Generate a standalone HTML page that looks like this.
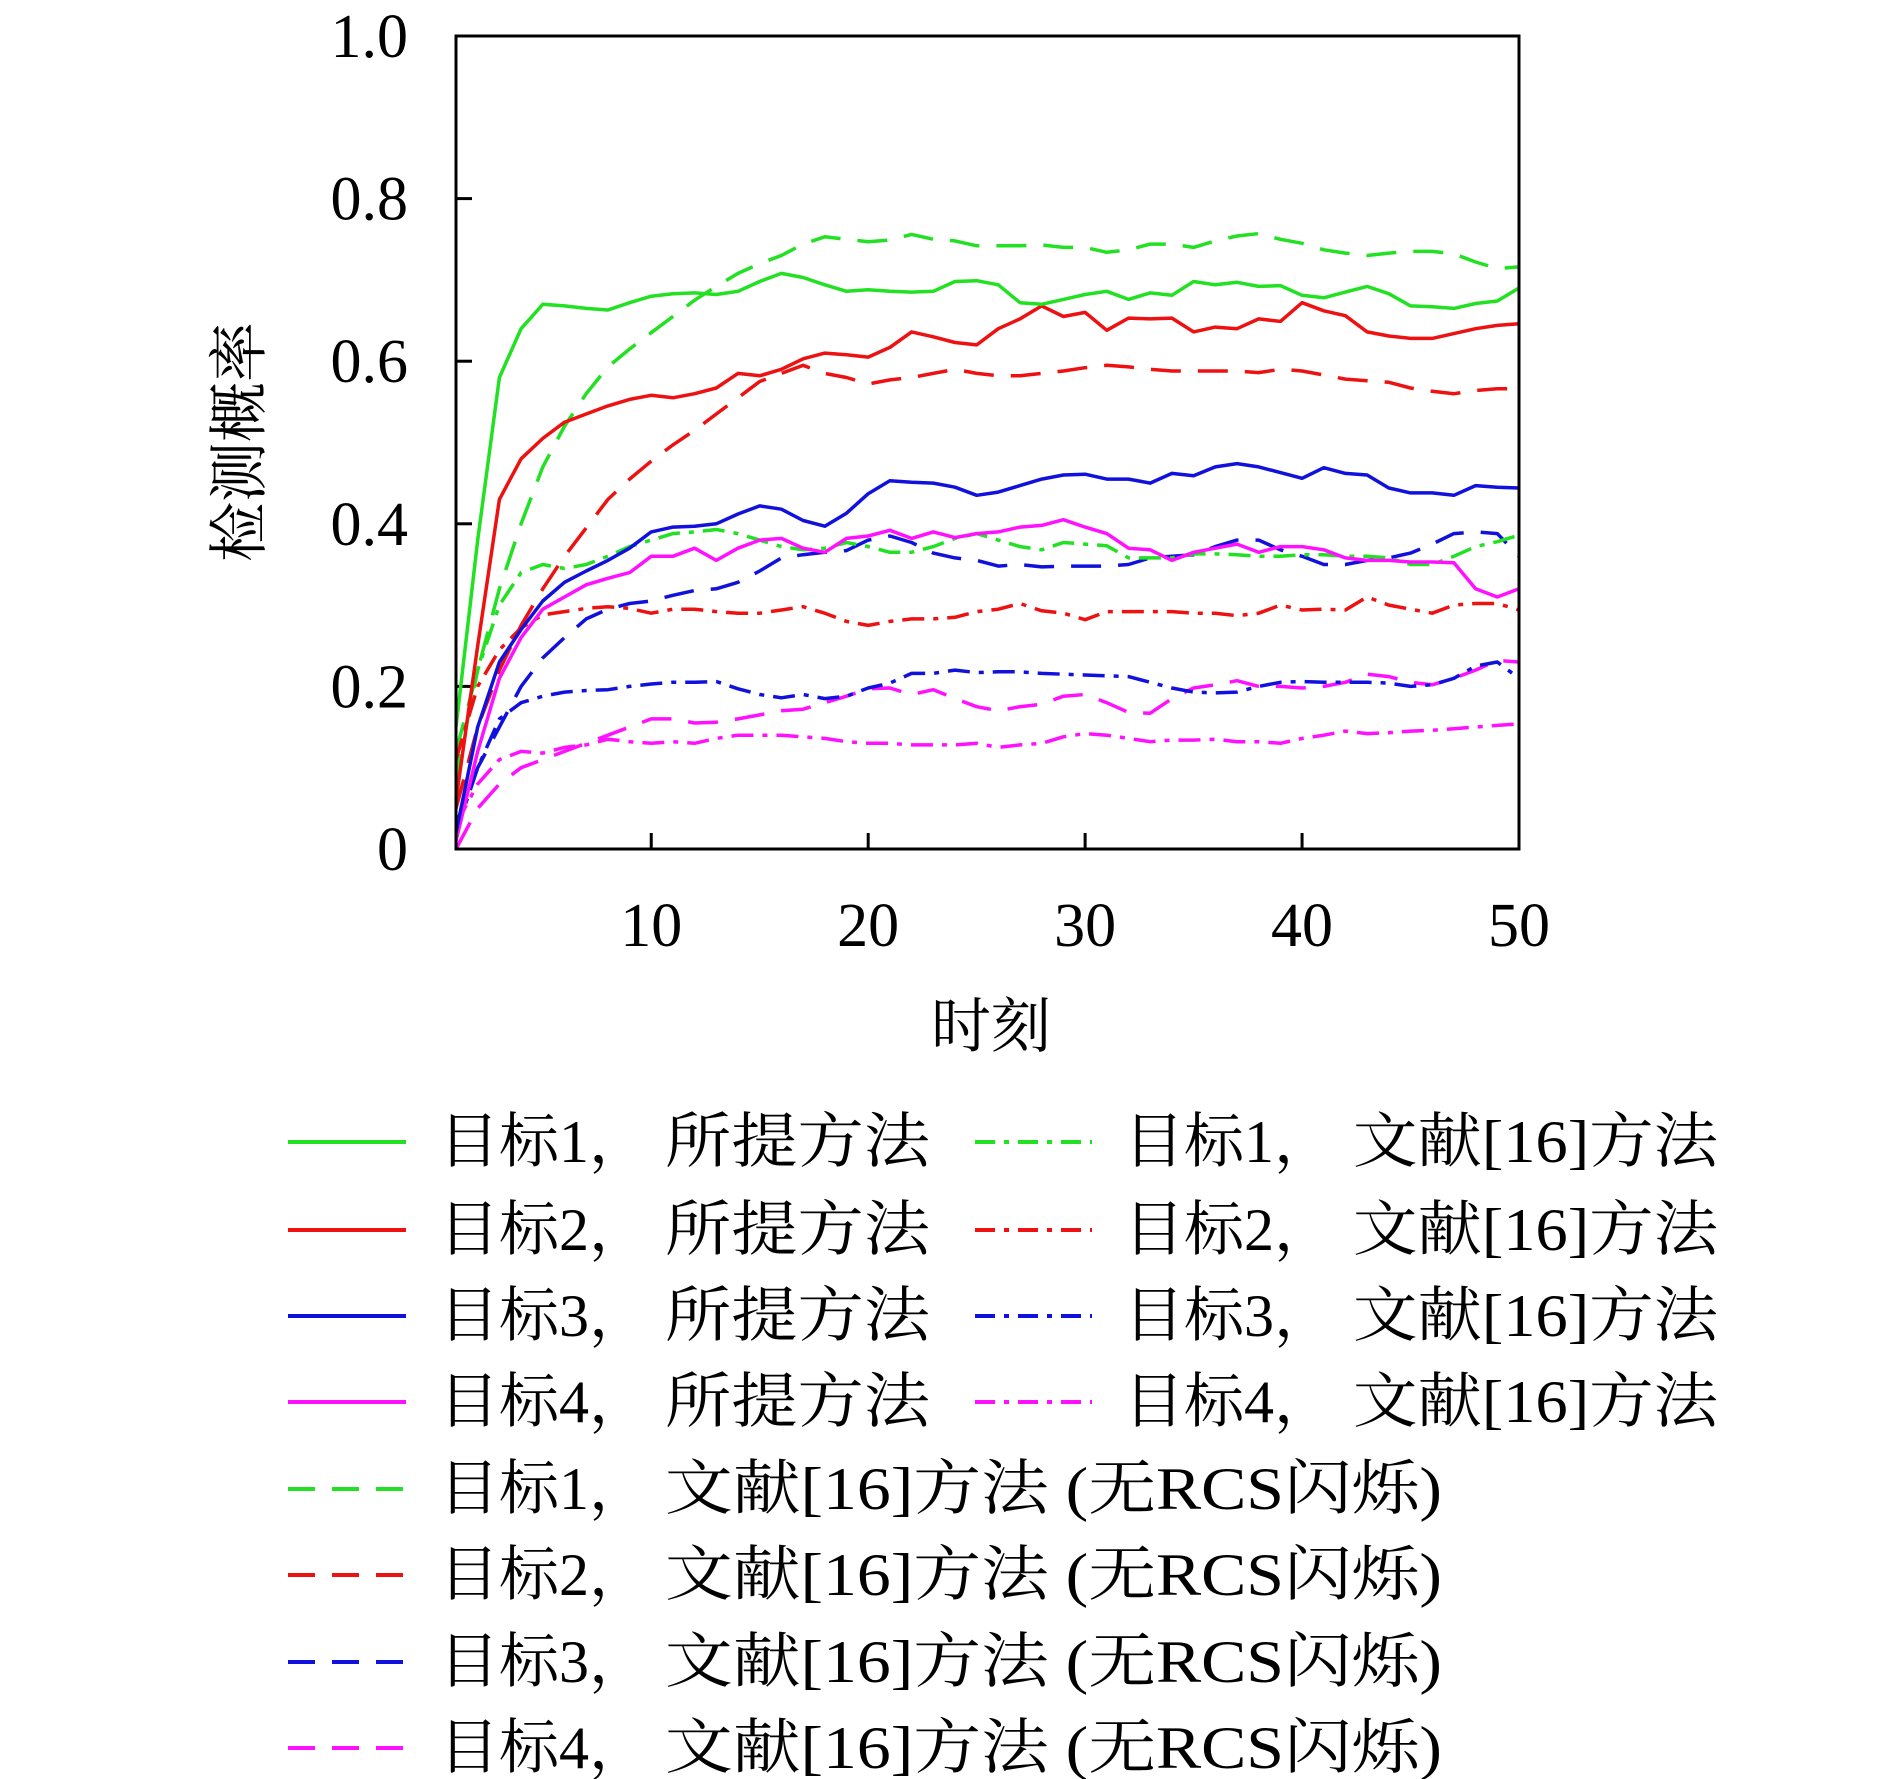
<!DOCTYPE html>
<html><head><meta charset="utf-8"><style>
html,body{margin:0;padding:0;background:#fff;}
svg{display:block;}
text{font-family:"Liberation Serif","Noto Serif CJK SC",serif;fill:#000;}
</style></head><body>
<svg id="chart" width="1890" height="1779" viewBox="0 0 1890 1779" xmlns="http://www.w3.org/2000/svg">
<rect x="0" y="0" width="1890" height="1779" fill="#fff"/>
<g id="ticks"></g>
<g id="series"></g>
<rect x="456" y="36" width="1063" height="813" fill="none" stroke="#000" stroke-width="3"/>
<text x="991" y="1047" font-size="60" text-anchor="middle">时刻</text>
<text x="0" y="0" font-size="60" text-anchor="middle" transform="translate(260,442) rotate(-90)">检测概率</text>
<g id="legend"></g>
</svg>
<script>
const xValues = Array.from({length:50},(_,i)=>i+1);
const xTicks = [10,20,30,40,50];
const yTicks = [0,0.2,0.4,0.6,0.8,1.0];
const yTickLabels = ["0","0.2","0.4","0.6","0.8","1.0"];
const t1Prop = [0.15,0.38,0.58,0.64,0.67,0.668,0.665,0.663,0.672,0.68,0.683,0.684,0.682,0.686,0.698,0.708,0.703,0.694,0.686,0.688,0.686,0.685,0.686,0.698,0.699,0.694,0.672,0.67,0.676,0.682,0.686,0.676,0.684,0.681,0.698,0.694,0.697,0.692,0.693,0.681,0.678,0.685,0.692,0.683,0.668,0.667,0.665,0.671,0.674,0.69];
const t2Prop = [0.06,0.25,0.43,0.48,0.505,0.525,0.535,0.545,0.553,0.558,0.555,0.56,0.567,0.585,0.582,0.59,0.603,0.61,0.608,0.605,0.617,0.636,0.63,0.623,0.62,0.64,0.652,0.668,0.655,0.66,0.638,0.653,0.652,0.653,0.636,0.642,0.64,0.652,0.649,0.672,0.662,0.656,0.636,0.631,0.628,0.628,0.634,0.64,0.644,0.646];
const t3Prop = [0.02,0.15,0.23,0.27,0.305,0.328,0.342,0.355,0.37,0.39,0.396,0.397,0.4,0.412,0.422,0.418,0.404,0.397,0.413,0.437,0.453,0.451,0.45,0.445,0.435,0.439,0.447,0.455,0.46,0.461,0.455,0.455,0.45,0.462,0.459,0.47,0.474,0.47,0.463,0.456,0.469,0.462,0.46,0.444,0.438,0.438,0.435,0.447,0.445,0.444];
const t4Prop = [0.01,0.12,0.21,0.26,0.295,0.31,0.325,0.333,0.34,0.36,0.36,0.37,0.355,0.37,0.38,0.382,0.37,0.365,0.382,0.385,0.392,0.382,0.39,0.383,0.388,0.39,0.396,0.398,0.405,0.396,0.388,0.37,0.368,0.355,0.365,0.37,0.375,0.365,0.372,0.372,0.368,0.358,0.355,0.355,0.353,0.353,0.352,0.32,0.31,0.32];
const t1Ref = [0.09,0.22,0.3,0.34,0.35,0.345,0.35,0.36,0.372,0.38,0.388,0.39,0.393,0.388,0.38,0.372,0.368,0.37,0.377,0.372,0.365,0.365,0.372,0.382,0.388,0.38,0.372,0.368,0.377,0.375,0.373,0.358,0.358,0.358,0.363,0.363,0.362,0.36,0.36,0.362,0.362,0.36,0.36,0.358,0.35,0.35,0.36,0.372,0.378,0.386];
const t2Ref = [0.11,0.2,0.245,0.272,0.288,0.292,0.296,0.298,0.296,0.29,0.295,0.295,0.292,0.29,0.29,0.294,0.298,0.29,0.28,0.275,0.28,0.283,0.283,0.285,0.292,0.295,0.302,0.293,0.29,0.282,0.292,0.292,0.292,0.292,0.29,0.29,0.287,0.29,0.3,0.294,0.295,0.294,0.31,0.3,0.295,0.29,0.3,0.302,0.302,0.294];
const t3Ref = [0.02,0.1,0.16,0.18,0.188,0.193,0.195,0.196,0.2,0.203,0.205,0.205,0.206,0.197,0.19,0.186,0.19,0.185,0.188,0.198,0.204,0.216,0.216,0.22,0.217,0.218,0.218,0.216,0.215,0.214,0.213,0.212,0.205,0.198,0.193,0.192,0.193,0.2,0.205,0.206,0.205,0.205,0.205,0.204,0.2,0.202,0.21,0.225,0.23,0.21];
const t4Ref = [0.03,0.08,0.11,0.12,0.118,0.125,0.128,0.135,0.132,0.13,0.132,0.13,0.136,0.14,0.14,0.14,0.138,0.136,0.132,0.13,0.13,0.128,0.128,0.128,0.13,0.125,0.128,0.13,0.138,0.142,0.14,0.136,0.132,0.134,0.134,0.135,0.132,0.132,0.13,0.136,0.14,0.145,0.142,0.143,0.145,0.146,0.148,0.15,0.152,0.154];
const t1NoFlicker = [0.12,0.22,0.32,0.4,0.47,0.52,0.56,0.593,0.615,0.635,0.655,0.675,0.692,0.708,0.72,0.73,0.744,0.753,0.75,0.747,0.749,0.756,0.75,0.748,0.742,0.742,0.742,0.743,0.74,0.74,0.734,0.737,0.744,0.744,0.74,0.748,0.754,0.757,0.75,0.745,0.737,0.733,0.73,0.733,0.735,0.735,0.732,0.722,0.714,0.716];
const t2NoFlicker = [0.05,0.15,0.22,0.275,0.32,0.36,0.395,0.43,0.455,0.477,0.497,0.515,0.535,0.555,0.575,0.585,0.595,0.585,0.58,0.572,0.577,0.58,0.585,0.59,0.585,0.582,0.582,0.585,0.588,0.592,0.595,0.593,0.59,0.588,0.588,0.588,0.588,0.586,0.59,0.588,0.583,0.578,0.576,0.574,0.567,0.563,0.56,0.564,0.566,0.566];
const t3NoFlicker = [0.03,0.1,0.15,0.2,0.235,0.26,0.283,0.295,0.302,0.305,0.312,0.318,0.32,0.328,0.342,0.358,0.362,0.365,0.367,0.38,0.385,0.377,0.364,0.358,0.355,0.348,0.35,0.347,0.348,0.348,0.348,0.35,0.358,0.36,0.362,0.372,0.38,0.38,0.368,0.36,0.35,0.35,0.355,0.358,0.364,0.375,0.388,0.39,0.388,0.36];
const t4NoFlicker = [0.0,0.05,0.08,0.1,0.11,0.12,0.13,0.14,0.15,0.16,0.16,0.155,0.156,0.16,0.165,0.17,0.172,0.18,0.188,0.197,0.198,0.19,0.196,0.185,0.175,0.17,0.175,0.178,0.188,0.19,0.18,0.168,0.167,0.185,0.198,0.202,0.207,0.2,0.2,0.198,0.2,0.205,0.215,0.212,0.205,0.202,0.21,0.22,0.232,0.23];

const NS="http://www.w3.org/2000/svg";
const X0=456,X1=1519,Y0=849,Y1=36;
function sx(v){return X0+(v-1)/(50-1)*(X1-X0);}
function sy(v){return Y0-v*(Y0-Y1);}
const G="#22e022",R="#ee1111",B="#1111dd",M="#ff11ff";
const DASH="30 17", DOT="22 9 5 9";
const seriesDefs=[
 {d:t1NoFlicker,c:G,dash:DASH,n:"t1-ref16-no-flicker"},
 {d:t2NoFlicker,c:R,dash:DASH,n:"t2-ref16-no-flicker"},
 {d:t3NoFlicker,c:B,dash:DASH,n:"t3-ref16-no-flicker"},
 {d:t4NoFlicker,c:M,dash:DASH,n:"t4-ref16-no-flicker"},
 {d:t1Ref,c:G,dash:DOT,n:"t1-ref16"},
 {d:t2Ref,c:R,dash:DOT,n:"t2-ref16"},
 {d:t3Ref,c:B,dash:DOT,n:"t3-ref16"},
 {d:t4Ref,c:M,dash:DOT,n:"t4-ref16"},
 {d:t4Prop,c:M,dash:null,n:"t4-proposed"},
 {d:t3Prop,c:B,dash:null,n:"t3-proposed"},
 {d:t2Prop,c:R,dash:null,n:"t2-proposed"},
 {d:t1Prop,c:G,dash:null,n:"t1-proposed"}
];
const sg=document.getElementById('series');
seriesDefs.forEach(s=>{
  const p=document.createElementNS(NS,'path');
  p.setAttribute('d',s.d.map((v,i)=>(i?'L':'M')+sx(xValues[i]).toFixed(1)+','+sy(v).toFixed(1)).join(''));
  p.setAttribute('fill','none');p.setAttribute('stroke',s.c);p.setAttribute('stroke-width','3.5');
  p.setAttribute('stroke-linejoin','round');
  if(s.dash)p.setAttribute('stroke-dasharray',s.dash);
  
  
  sg.appendChild(p);
});
const tg=document.getElementById('ticks');
xTicks.forEach(v=>{
  const l=document.createElementNS(NS,'line');
  l.setAttribute('x1',sx(v));l.setAttribute('x2',sx(v));l.setAttribute('y1',Y0);l.setAttribute('y2',Y0-16);
  l.setAttribute('stroke','#000');l.setAttribute('stroke-width','3');
  
  
  tg.appendChild(l);
  const t=document.createElementNS(NS,'text');
  t.setAttribute('x',sx(v));t.setAttribute('y',946);t.setAttribute('font-size','62');t.setAttribute('text-anchor','middle');
  t.textContent=String(v);
  
  
  tg.appendChild(t);
});
yTicks.forEach((v,i)=>{
  const l=document.createElementNS(NS,'line');
  l.setAttribute('x1',X0);l.setAttribute('x2',X0+16);l.setAttribute('y1',sy(v));l.setAttribute('y2',sy(v));
  l.setAttribute('stroke','#000');l.setAttribute('stroke-width','3');
  
  
  tg.appendChild(l);
  const t=document.createElementNS(NS,'text');
  t.setAttribute('x',408);t.setAttribute('y',sy(v)+21);t.setAttribute('font-size','62');t.setAttribute('text-anchor','end');
  t.textContent=yTickLabels[i];
  
  
  tg.appendChild(t);
});
const lg=document.getElementById('legend');
const rows=[1142,1230,1316,1402,1489,1575,1662,1748];
const cols=[G,R,B,M];
function addText(x,y,s,name,len){
  const t=document.createElementNS(NS,'text');
  t.setAttribute('x',x);t.setAttribute('y',y+20);t.setAttribute('font-size','60');
  if(len){t.setAttribute('textLength',len);t.setAttribute('lengthAdjust','spacingAndGlyphs');}
  t.textContent=s;
  
  
  lg.appendChild(t);
}
function addLine(x1,x2,y,c,dash,name){
  const l=document.createElementNS(NS,'line');
  l.setAttribute('x1',x1);l.setAttribute('x2',x2);l.setAttribute('y1',y);l.setAttribute('y2',y);
  l.setAttribute('stroke',c);l.setAttribute('stroke-width','4');
  if(dash)l.setAttribute('stroke-dasharray',dash);
  
  
  lg.appendChild(l);
}
for(let k=0;k<4;k++){
  const y=rows[k];
  addLine(288,406,y,cols[k],null,'legend-swatch-proposed');
  addText(439,y,'目标'+(k+1)+'，','legend-label-target');
  addText(665,y,'所提方法','legend-label-proposed',265);
  addLine(975,1092,y,cols[k],"20 9 5 9",'legend-swatch-ref16');
  addText(1124,y,'目标'+(k+1)+'，','legend-label-target');
  addText(1353,y,'文献[16]方法','legend-label-ref16',365);
}
for(let k=0;k<4;k++){
  const y=rows[k+4];
  addLine(288,406,y,cols[k],"27 17",'legend-swatch-no-flicker');
  addText(439,y,'目标'+(k+1)+'，','legend-label-target');
  addText(665,y,'文献[16]方法 (无RCS闪烁)','legend-label-no-flicker',777);
}
</script>
</body></html>
